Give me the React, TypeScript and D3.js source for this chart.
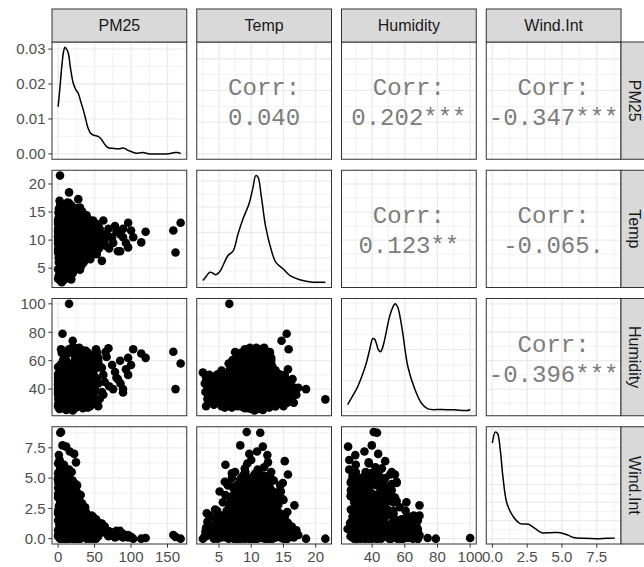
import React from 'react';
import * as d3 from 'd3';

// ---------- data ----------
const variableNames = ['PM25', 'Temp', 'Humidity', 'Wind.Int'];

const observations: number[][] = [
  [2,3.0,28,0.2],[14,3.2,33,1.4],[8,2.9,38,0.6],[0,3.1,43,2.1],[18,3.0,48,0.9],
  [6,4.2,29,0.0],[12,4.3,33,1.7],[20,4.1,38,0.4],[3,4.2,43,1.1],[10,4.4,49,2.4],
  [24,5.4,28,0.1],[32,5.5,33,0.7],[4,5.3,38,1.9],[16,5.4,43,0.3],[28,5.6,48,1.3],[9,5.4,53,0.5],
  [38,6.6,28,0.8],[1,6.7,33,2.2],[20,6.5,38,0.0],[44,6.6,43,1.6],[12,6.8,48,0.2],[30,6.6,53,1.0],[5,6.5,58,0.6],
  [26,7.8,28,1.2],[14,7.9,33,0.1],[42,7.7,38,0.9],[0,7.8,43,2.3],[34,7.8,48,0.4],[8,8.0,53,1.5],[22,7.7,58,0.0],[46,7.9,63,0.7],
  [3,9.0,28,1.8],[36,9.1,33,0.3],[18,8.9,38,1.1],[10,9.0,43,0.0],[40,9.2,48,0.6],[25,8.9,53,2.0],[6,9.0,58,0.2],[31,9.1,63,1.4],[15,9.0,68,0.8],
  [44,10.2,28,0.4],[7,10.3,33,1.6],[28,10.1,38,0.1],[2,10.2,43,1.2],[19,10.4,48,0.5],[38,10.2,53,2.1],[12,10.1,58,0.0],[33,10.3,63,0.9],[4,10.2,68,1.7],
  [22,11.4,28,0.6],[48,11.5,33,0.2],[11,11.3,38,1.0],[35,11.4,43,1.8],[0,11.6,48,0.3],[26,11.4,53,1.3],[45,11.3,58,0.7],[9,11.5,63,0.1],[30,11.4,68,1.5],
  [5,12.6,28,1.1],[40,12.7,33,0.5],[17,12.5,38,2.2],[29,12.6,43,0.0],[2,12.8,48,0.8],[43,12.6,53,0.3],[13,12.5,58,1.6],[24,12.7,63,0.4],
  [36,13.8,28,0.9],[8,13.9,33,0.2],[21,13.7,38,1.4],[41,13.8,43,0.6],[1,14.0,48,2.0],[27,13.8,53,0.1],
  [14,15.0,28,0.7],[33,15.1,33,0.3],[4,14.9,38,1.2],[23,15.0,43,0.0],[10,15.2,48,1.8],
  [18,16.2,33,0.5],[3,16.3,38,1.0],[12,16.1,43,0.2],
  [11,3.6,30.5,1.0],[1,3.7,35.5,0.3],[17,3.5,40.5,1.9],[7,3.6,45.5,0.6],
  [24,4.8,30.5,0.0],[4,4.9,35.5,1.4],[30,4.7,40.5,2.3],[13,4.8,45.5,0.8],[0,4.8,50.5,0.2],
  [35,6.0,30.5,1.7],[9,6.1,35.5,0.5],[21,5.9,40.5,1.2],[2,6.0,45.5,2.0],[27,6.1,50.5,0.1],
  [45,7.2,30.5,0.9],[15,7.3,35.5,1.5],[5,7.1,40.5,0.4],[33,7.2,45.5,2.2],[19,7.2,50.5,0.7],[39,7.3,55.5,0.0],[11,7.1,60.5,1.1],
  [26,8.4,30.5,1.0],[2,8.5,35.5,0.3],[43,8.3,40.5,1.6],[13,8.4,45.5,0.6],[29,8.4,50.5,0.0],[6,8.5,55.5,1.4],[37,8.3,60.5,2.3],[20,8.4,65.5,0.8],
  [47,9.6,30.5,0.2],[9,9.7,35.5,1.7],[31,9.5,40.5,0.5],[16,9.6,45.5,1.2],[1,9.6,50.5,2.0],[42,9.7,55.5,0.1],[23,9.5,60.5,0.9],[5,9.6,65.5,1.5],
  [14,10.8,30.5,0.4],[38,10.9,35.5,2.2],[0,10.7,40.5,0.7],[25,10.8,45.5,0.0],[47,10.8,50.5,1.1],[10,10.9,55.5,1.0],[32,10.7,60.5,0.3],[18,10.8,65.5,1.9],
  [3,12.0,30.5,0.6],[30,12.1,35.5,0.0],[12,11.9,40.5,1.4],[46,12.0,45.5,0.8],[20,12.0,50.5,2.3],[36,12.1,55.5,0.2],[7,11.9,60.5,1.7],[41,12.0,65.5,0.5],
  [24,13.2,30.5,1.2],[44,13.3,35.5,0.0],[6,13.1,40.5,2.0],[34,13.2,45.5,0.9],[16,13.2,50.5,0.4],[0,13.3,55.5,1.5],[28,13.1,60.5,0.1],
  [39,14.4,30.5,0.7],[11,14.5,35.5,1.8],[30,14.3,40.5,0.3],[2,14.4,45.5,1.1],[19,14.4,50.5,2.1],
  [6,15.6,30.5,0.0],[26,15.7,35.5,1.3],[15,15.5,40.5,0.6],[1,15.6,45.5,2.2],
  [31,8.2,30,0.3],[37,10.6,36,1.2],[43,9.3,41,0.5],[50,11.8,46,1.0],[34,12.2,51,0.2],[40,7.4,56,1.4],[47,10.0,61,0.7],[52,12.9,66,0.4],
  [29,9.8,69,1.9],[55,9.1,28,0.6],[33,11.0,31,1.5],[38,8.7,38,0.1],[45,12.4,43,1.7],[53,9.9,47,0.3],[36,10.4,55,0.9],[49,8.0,59,0.0],
  [42,11.7,63,1.3],[35,9.4,67,0.6],[51,10.7,39,1.1],[39,12.9,35,0.4],[44,8.9,52,0.8],[32,13.2,45,1.6],[54,11.3,55,0.5],[41,10.1,27,0.9],
  [47,7.8,33,1.2],[30,10.9,58,0.0],[36,7.2,42,1.8],[55,8.6,62,0.2],[43,13.0,60,0.7],[49,12.2,37,0.1],[28,8.5,64,1.1],[38,11.5,48,0.3],
  [46,9.6,54,1.5],[34,9.0,26.5,0.8],[52,10.3,68,0.0],
  [4,6.2,44,2.3],[12,7.0,31,2.0],[20,8.0,49,2.2],[7,9.0,27,2.4],[16,10.0,41,2.1],[25,11.0,53,2.3],[3,12.0,34,1.9],[14,13.0,47,2.2],
  [22,14.0,30,2.4],[9,15.0,40,2.0],
  [4,9.3,41,8.8],[3,11.4,43,8.75],[6,8.3,39.8,7.7],[11,11.8,25.3,7.6],[16,10.9,35.3,7.2],[22,9.7,43.7,7.0],[1,12.5,29.7,6.9],[24.5,12.6,37.9,6.3],
  [2,15.2,48,6.4],[8,6.0,30,6.1],[18.6,7.5,52,5.5],[3,15.7,54,5.3],[12,5.9,27,4.7],[0.5,14.9,33,4.6],[26,10.5,44,4.4],[7,5.1,31,3.9],
  [31,11,50,3.6],[9,13,38,5.0],[5,9,46,5.8],[2,10,26,6.5],[10,12,28,5.2],[15,8.5,36,4.9],[1,7,33,5.0],[20,13.5,40,4.8],[6,11.2,44,5.6],
  [37,10,48,2.6],[4,5.6,29,3.0],[13,16.7,41,2.75],[8,9,61,3.0],[19,12,69,2.75],[2,8,35,4.2],[28,13,30,3.3],[10,14,45,3.8],[5,11,52,4.0],
  [22,7,27,3.5],[15,10,38,4.1],[33,9.5,42,2.9],[0,12,36,3.4],[12,6.5,48,2.8],[25,11.5,55,3.1],[7,13.8,32,2.5],[18,8.2,40,3.7],[3,10.5,57,2.6],
  [28,12.5,46,2.7],[9,15,29,3.2],[14,9.5,51,4.3],[1,6,40,3.6],[20,10.8,34,2.9],[6,14.5,43,4.4],[30,8.8,37,3.0],
  [4,8.6,30,5.1],[17,9.8,47,4.5],[0,10.7,39,5.4],[11,12.2,34,4.0],[23,9.2,28,3.9],[2,13.2,50,3.5],[13,7.6,42,3.2],[27,11.8,36,2.6],
  [6,12.8,27,4.6],[19,8.0,45,2.5],[9,10.2,53,3.3],[1,9.6,31,4.8],[15,11.0,26,5.7],[24,13.9,39,3.0],[7,7.2,37,4.3],[32,10.0,33,2.5],
  [3,12.0,42,5.9],[12,8.9,29,5.3],[21,10.4,49,3.8],[5,14.2,35,2.8],[10,6.8,46,2.6],[16,11.6,31,4.2],[0,9.4,38,6.2],[8,13.0,45,4.9],[26,8.4,33,2.8],
  [3,7.8,34,3.1],[14,10.6,42,2.7],[25,12.4,29,3.4],[8,8.8,50,4.1],[19,11.2,37,4.6],[0,13.6,44,3.7],[11,6.4,32,4.4],[28,9.9,53,3.0],[6,12.9,40,5.2],[17,7.4,48,2.9],
  [1,10.9,27,3.6],[22,13.1,46,4.0],[9,9.1,36,5.5],[30,11.0,41,2.6],[4,6.9,52,3.3],[15,12.3,30,5.0],[26,8.1,39,3.8],[2,11.6,55,4.7],[12,14.3,37,3.5],[20,9.3,32,4.3],
  [7,10.1,45,2.8],[29,12.7,50,3.2],[0,8.3,28,4.9],[16,13.4,35,2.9],[10,7.0,41,5.4],[24,10.3,47,4.5],[5,12.0,33,3.9],[18,9.7,54,3.4],[13,11.4,29,4.8],[3,14.1,49,3.1],
  [21,6.7,36,3.0],[8,11.9,38,4.2],[27,10.6,31,3.7],[1,9.0,43,2.7],[14,8.6,51,4.0],[23,12.2,43,2.8],[6,10.4,35,5.1],[11,13.7,28,3.6],[17,9.4,40,3.3],[9,12.5,47,2.5],
  [5,8.0,41,4.5],[13,9.6,29,3.9],[20,11.3,45,3.2],[2,12.6,36,4.2],[10,10.5,51,5.3],[17,13.3,33,3.6],[7,9.2,27,4.0],[24,10.9,38,3.3],
  [0,11.5,46,4.9],[14,8.4,35,4.6],[9,14.0,41,3.0],[22,9.9,30,4.1],[4,10.7,49,3.6],[12,12.4,43,5.1],[19,7.9,34,3.9],[1,13.1,30,5.5],
  [15,10.2,52,3.1],[6,8.9,44,5.3],[25,11.9,27,3.5],[11,11.0,39,4.4],[3,9.8,33,4.7],[16,12.8,53,3.4],[8,7.6,47,4.0],[21,13.7,42,3.1],[0,10.0,29,5.0],
  [1,8.7,55,4.6],[18,11.7,47,4.3],[10,13.6,51,3.8],[5,7.3,29,4.1],[23,10.6,34,3.5],[2,14.6,38,3.9],[13,6.3,38,4.5],[27,9.5,45,3.4],
  [8,12.1,52,4.5],[17,8.5,28,3.6],[6,11.3,32,4.8],[12,9.3,48,5.0],[0,12.9,37,4.2],[19,14.8,34,3.3],[4,10.9,43,5.0],
  [46,10.5,35,1.9],[48,9,63,1.8],[50,11.5,30,1.4],[53,7.5,66,1.1],[55,10,44,0.8],[57,12,33,0.5],[48,13.5,52,0.3],[44,7,58,1.5],
  [50,9.5,49,0.2],[56,8.5,57,1.3],[62,11,36,0.6],[64,10,45,1.0],
  [52,8,45,1.6],[55,12.5,60,1.2],[60,6.3,38,1.0],[60,10,55,1.25],[62,13.5,50,0.9],[65,9,66,0.7],[66.5,11,62.6,0.4],[69,12,68.7,0.2],
  [70,8.5,42,0.6],[74,10.5,57,0.5],[75.5,9.5,40,0.3],[78,12.5,52,0.1],[80,11.5,48,0.64],[82,8,47,0.2],[85,8,60,0.64],[85.5,11,44,0.3],
  [89,10.5,40,0.1],[89,12,37.6,0.4],[93,9.5,54,0.2],[96,13.1,62,0.1],[96,8.7,50,0.3],[100,11.7,57,0.15],[103,10.5,68,0.0],
  [114,9.6,65,0.0],[120,11.5,62,0.05],
  [158,11.7,66.3,0.3],[168,13.1,58,0.0],[161,7.8,40,0.15],
  [2.6,21.5,32.8,0.0],[15,6.6,100,0.05],[6,15.5,79,0.0],[20,14.7,74,0.05],[30,15.8,68,0.5],[5,2.5,51.6,0.0],[3,2.8,44,0.2],
  [8,3.5,50,0.4],[15,18.5,40,0.0],[27.6,17.3,41,0.3],[15,16.6,30.4,0.1],[4,15.2,50,1.0],[9,16.4,47,0.6],[20,10.5,25,0.8],
  [2,17.0,36,0.7],[5,9.5,26.5,1.3],[12,11.2,26.8,0.2],[22,10.8,69,0.3],[38,9.6,67,1.1],[8,11.9,66,0.5],
];

const pm25 = observations.map((d) => d[0]);
const temp = observations.map((d) => d[1]);
const humidity = observations.map((d) => d[2]);
const windInt = observations.map((d) => d[3]);

// density curves [x, density]
const densityPM25: number[][] = [
  [0,0.0135],[2.5,0.019],[5,0.025],[7.5,0.0293],[9.4,0.0305],[11.5,0.030],[14,0.0288],[17,0.0245],[20.8,0.0202],
  [24,0.0185],[27.7,0.0173],[31,0.0150],[34.5,0.0126],[38,0.0098],[41,0.0074],[44.5,0.0059],[48,0.0054],[52,0.0052],
  [55,0.0050],[60,0.0040],[63,0.0030],[66.5,0.0021],[70,0.0017],[75,0.0016],[80,0.0015],[85,0.0015],[89,0.0017],
  [92,0.0015],[96,0.0010],[101,0.0006],[107.5,0.0002],[112,0.0003],[116.5,0.0004],[121,0.0002],[125,0.0],[135,0.0],
  [148,0.0],[154,0.0001],[160,0.0004],[164,0.0004],[168,0.0001],
];
const densityTemp: number[][] = [
  [2.5,0.0063],[3.0,0.014],[3.57,0.0225],[4.0,0.021],[4.5,0.0174],[5.0,0.022],[5.38,0.0291],[6.4,0.055],[7.18,0.0635],
  [7.95,0.097],[8.73,0.1266],[9.66,0.156],[10.28,0.188],[10.7,0.211],[11.05,0.2078],[11.58,0.1688],[12.25,0.1103],
  [13.13,0.0648],[13.8,0.042],[14.93,0.0291],[15.97,0.0161],[17.52,0.0077],[19.58,0.003],[21.5,0.003],
];
const densityHumidity: number[][] = [
  [25,0.0023],[28,0.0050],[31.2,0.0081],[34,0.0118],[36.4,0.0156],[38.5,0.0200],[40.4,0.0236],[41.5,0.0234],
  [42.5,0.0222],[43.8,0.0200],[45.1,0.0193],[46.3,0.0205],[47.6,0.0231],[50.6,0.0305],[52.5,0.0335],[54.1,0.0348],
  [55.7,0.0337],[57.3,0.0300],[58.8,0.0252],[61.9,0.0145],[65.9,0.0076],[70.1,0.0028],[74.1,0.0009],[82.3,0.0007],
  [90,0.0006],[98.6,0.0004],[100,0.0007],
];
const densityWind: number[][] = [
  [0,0.527],[0.21,0.587],[0.37,0.579],[0.57,0.487],[0.76,0.340],[1.05,0.194],[1.52,0.120],[2.0,0.084],[2.3,0.082],
  [2.6,0.080],[3.08,0.056],[3.56,0.034],[4.2,0.034],[4.88,0.034],[5.47,0.019],[5.83,0.007],[6.6,0.003],[7.51,0.001],
  [8.2,0.003],[8.8,0.004],
];

// correlation labels (upper triangle)
const corrRows = [0, 0, 0, 1, 1, 2];
const corrCols = [1, 2, 3, 2, 3, 3];
const corrValues = ['0.040', '0.202***', '-0.347***', '0.123**', '-0.065.', '-0.396***'];

// tick breaks
const pm25Ticks = [0, 50, 100, 150];
const tempTicks = [5, 10, 15, 20];
const humidityTicks = [40, 60, 80, 100];
const windTicks = [0, 2.5, 5, 7.5];
const densityTicksPM25 = [0, 0.01, 0.02, 0.03];

// ---------- layout ----------
const WIDTH = 644;
const HEIGHT = 567;
const PANEL_W = 134.75;
const PANEL_H = 117.25;
const LEFT = 52;
const TOP = 42;
const GAP_X = 10;
const GAP_Y = 11;
const STRIP = 33;
const colX = (j: number) => LEFT + j * (PANEL_W + GAP_X);
const rowY = (i: number) => TOP + i * (PANEL_H + GAP_Y);

const columns = [pm25, temp, humidity, windInt];
const densities = [densityPM25, densityTemp, densityHumidity, densityWind];
const majorTicks = [pm25Ticks, tempTicks, humidityTicks, windTicks];
const tickFormats = [d3.format('d'), d3.format('d'), d3.format('d'), d3.format('.1f')];

function expand(ext: [number, number]): [number, number] {
  const p = (ext[1] - ext[0]) * 0.05;
  return [ext[0] - p, ext[1] + p];
}
const domains = columns.map((c) => expand(d3.extent(c) as [number, number]));

function minorBreaks(majors: number[], domain: [number, number]) {
  if (majors.length < 2) return [];
  const s = majors[1] - majors[0];
  const out: number[] = [];
  for (let v = majors[0] - s / 2; v <= majors[majors.length - 1] + s / 2 + 1e-9; v += s) {
    if (v >= domain[0] && v <= domain[1]) out.push(v);
  }
  return out;
}

const GRID = '#EBEBEB';
const AXIS_TEXT = '#4D4D4D';
const SANS = '"Liberation Sans", Arial, Helvetica, sans-serif';
const MONO = '"Liberation Mono", "DejaVu Sans Mono", monospace';

function Panel({ i, j }: { i: number; j: number }) {
  const x0 = colX(j);
  const y0 = rowY(i);
  const xs = d3.scaleLinear().domain(domains[j]).range([x0, x0 + PANEL_W]);
  let ys: d3.ScaleLinear<number, number>;
  let yMajors: number[];
  if (i === j) {
    const dens = densities[i];
    ys = d3.scaleLinear().domain(expand(d3.extent(dens, (d) => d[1]) as [number, number])).range([y0 + PANEL_H, y0]);
    yMajors = i === 0 ? densityTicksPM25 : ys.ticks(5);
  } else {
    ys = d3.scaleLinear().domain(domains[i]).range([y0 + PANEL_H, y0]);
    yMajors = majorTicks[i];
  }
  const xMajors = majorTicks[j];
  const xMinors = minorBreaks(xMajors, domains[j]);
  const yMinors = minorBreaks(yMajors, ys.domain() as [number, number]);
  const clipId = `clip-${i}-${j}`;

  let content: React.ReactNode = null;
  if (i > j) {
    content = observations.map((_, k) => (
      <circle key={k} cx={xs(columns[j][k])} cy={ys(columns[i][k])} r={4.3} fill="#000" />
    ));
  } else if (i === j) {
    const line = d3
      .line<number[]>()
      .x((d) => xs(d[0]))
      .y((d) => ys(d[1]))
      .curve(d3.curveCatmullRom.alpha(0.5));
    content = <path d={line(densities[i]) || ''} fill="none" stroke="#000" strokeWidth={1.5} />;
  } else {
    const idx = corrRows.findIndex((r, q) => r === i && corrCols[q] === j);
    const cx = x0 + PANEL_W / 2;
    const cy = y0 + PANEL_H / 2;
    content = (
      <g fontFamily={MONO} fontSize={24} fill="#7c7c7c" textAnchor="middle">
        <text x={cx} y={cy - 5.5}>Corr:</text>
        <text x={cx} y={cy + 24.5}>{corrValues[idx]}</text>
      </g>
    );
  }

  return (
    <g>
      <defs>
        <clipPath id={clipId}>
          <rect x={x0} y={y0} width={PANEL_W} height={PANEL_H} />
        </clipPath>
      </defs>
      <rect x={x0} y={y0} width={PANEL_W} height={PANEL_H} fill="#fff" />
      <g clipPath={`url(#${clipId})`}>
        {xMinors.map((v, k) => (
          <line key={`xm${k}`} x1={xs(v)} x2={xs(v)} y1={y0} y2={y0 + PANEL_H} stroke={GRID} strokeWidth={0.7} />
        ))}
        {yMinors.map((v, k) => (
          <line key={`ym${k}`} x1={x0} x2={x0 + PANEL_W} y1={ys(v)} y2={ys(v)} stroke={GRID} strokeWidth={0.7} />
        ))}
        {xMajors.map((v, k) => (
          <line key={`xM${k}`} x1={xs(v)} x2={xs(v)} y1={y0} y2={y0 + PANEL_H} stroke={GRID} strokeWidth={1.3} />
        ))}
        {yMajors.map((v, k) => (
          <line key={`yM${k}`} x1={x0} x2={x0 + PANEL_W} y1={ys(v)} y2={ys(v)} stroke={GRID} strokeWidth={1.3} />
        ))}
        {content}
      </g>
      <rect x={x0} y={y0} width={PANEL_W} height={PANEL_H} fill="none" stroke="#333" strokeWidth={1} />
      {j === 0 && (
        <g>
          {yMajors.map((v, k) => (
            <g key={`yt${k}`}>
              <line x1={x0 - 3.7} x2={x0} y1={ys(v)} y2={ys(v)} stroke="#333" strokeWidth={1} />
              <text
                x={x0 - 6.5}
                y={ys(v)}
                dy="0.35em"
                textAnchor="end"
                fontFamily={SANS}
                fontSize={15}
                fill={AXIS_TEXT}
              >
                {i === 0 ? d3.format('.2f')(v) : tickFormats[i](v)}
              </text>
            </g>
          ))}
        </g>
      )}
      {i === 3 && (
        <g>
          {xMajors.map((v, k) => (
            <g key={`xt${k}`}>
              <line x1={xs(v)} x2={xs(v)} y1={y0 + PANEL_H} y2={y0 + PANEL_H + 3.7} stroke="#333" strokeWidth={1} />
              <text x={xs(v)} y={y0 + PANEL_H + 17.5} textAnchor="middle" fontFamily={SANS} fontSize={15} fill={AXIS_TEXT}>
                {tickFormats[j](v)}
              </text>
            </g>
          ))}
        </g>
      )}
    </g>
  );
}

export default function App() {
  const idx = [0, 1, 2, 3];
  return (
    <svg
      width={WIDTH}
      height={HEIGHT}
      viewBox={`0 0 ${WIDTH} ${HEIGHT}`}
      style={{ position: 'absolute', left: 0, top: 0, background: '#fff' }}
    >
      <rect x={0} y={0} width={WIDTH} height={HEIGHT} fill="#fff" />
      {idx.map((i) => idx.map((j) => <Panel key={`${i}-${j}`} i={i} j={j} />))}
      {variableNames.map((name, j) => (
        <g key={`ts${j}`}>
          <rect x={colX(j)} y={TOP - STRIP} width={PANEL_W} height={STRIP} fill="#D9D9D9" stroke="#333" strokeWidth={1} />
          <text
            x={colX(j) + PANEL_W / 2}
            y={TOP - STRIP / 2}
            dy="0.35em"
            textAnchor="middle"
            fontFamily={SANS}
            fontSize={16}
            fill="#1A1A1A"
          >
            {name}
          </text>
        </g>
      ))}
      {variableNames.map((name, i) => {
        const sx = colX(3) + PANEL_W;
        const cy = rowY(i) + PANEL_H / 2;
        return (
          <g key={`rs${i}`}>
            <rect x={sx} y={rowY(i)} width={STRIP} height={PANEL_H} fill="#D9D9D9" stroke="#333" strokeWidth={1} />
            <text
              transform={`translate(${sx + 7.5},${cy}) rotate(90)`}
              textAnchor="middle"
              fontFamily={SANS}
              fontSize={16}
              fill="#1A1A1A"
            >
              {name}
            </text>
          </g>
        );
      })}
    </svg>
  );
}
